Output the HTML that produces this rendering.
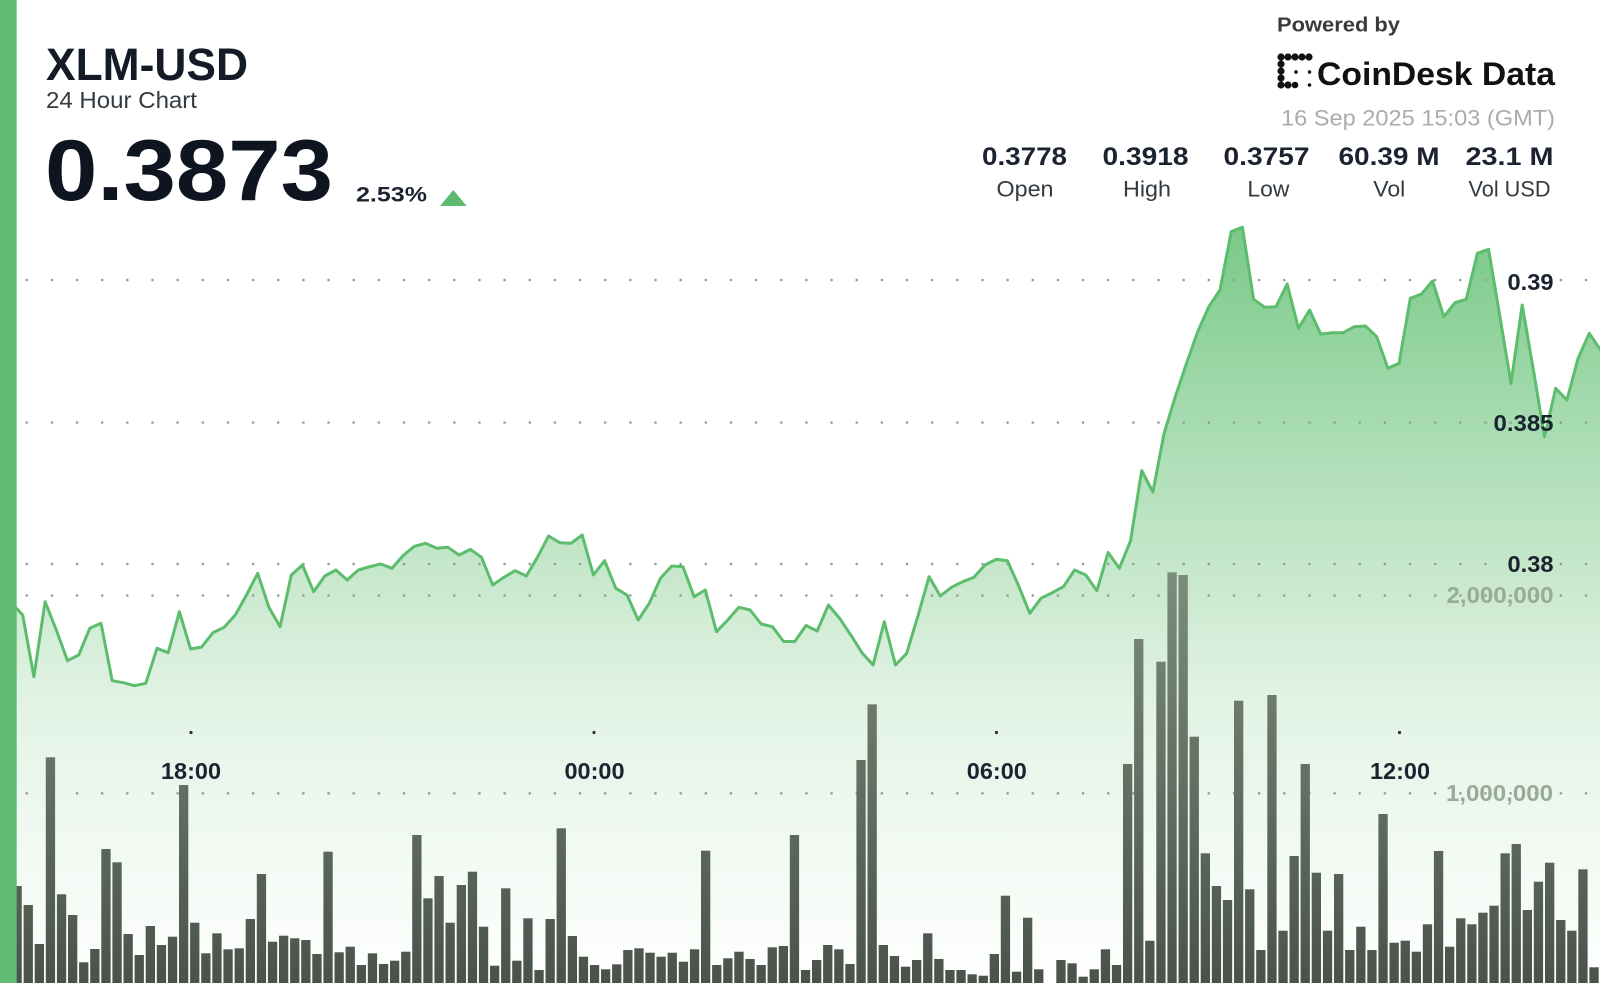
<!DOCTYPE html>
<html><head><meta charset="utf-8"><style>
html,body{margin:0;padding:0;background:#fff;}
svg{display:block;font-family:"Liberation Sans",Arial,sans-serif;}
</style></head><body>
<svg width="1600" height="983" viewBox="0 0 1600 983" xmlns="http://www.w3.org/2000/svg">
<defs>
<linearGradient id="area" gradientUnits="userSpaceOnUse" x1="0" y1="220" x2="0" y2="983">
<stop offset="0" stop-color="#78c886"/>
<stop offset="0.26" stop-color="#a6dbb0"/>
<stop offset="0.45" stop-color="#c5e7ca"/>
<stop offset="0.63" stop-color="#e2f3e5"/>
<stop offset="1" stop-color="#ffffff"/>
</linearGradient>
<linearGradient id="bar" gradientUnits="userSpaceOnUse" x1="0" y1="560" x2="0" y2="983">
<stop offset="0" stop-color="#7d8f7d"/>
<stop offset="1" stop-color="#4a534a"/>
</linearGradient>
</defs>
<rect width="1600" height="983" fill="#fff"/>
<polygon fill="url(#area)" points="11.5,603 22.7,615 33.9,676.7 45.1,601.7 56.3,630 67.5,660.7 78.7,655 89.8,628.3 101,623.3 112.2,680.7 123.4,682.7 134.6,685.7 145.8,683.3 157,648.3 168.2,652.7 179.4,611.7 190.6,649 201.7,647 212.9,632.7 224.1,627.3 235.3,615 246.5,595 257.7,573.3 268.9,607.3 280.1,626.7 291.3,575 302.5,565 313.6,591.7 324.8,576 336,570 347.2,580 358.4,570 369.6,566.7 380.8,564 392,568.3 403.2,555.5 414.4,546.3 425.5,543.3 436.7,548.3 447.9,547.3 459.1,555 470.3,549.3 481.5,557.3 492.7,585 503.9,577.3 515.1,570.7 526.3,576 537.4,557.3 548.6,536 559.8,542.7 571,543.3 582.2,535 593.4,575 604.6,560.7 615.8,588.3 627,595 638.2,620 649.3,603.3 660.5,578.3 671.7,566 682.9,566.7 694.1,596.7 705.3,590 716.5,631.7 727.7,620 738.9,607.3 750.1,610 761.2,624 772.4,626.7 783.6,641.5 794.8,641.5 806,625.5 817.2,631 828.4,605 839.6,618.3 850.8,635 862,652.7 873.1,665 884.3,621.7 895.5,665 906.7,653.3 917.9,616 929.1,576.7 940.3,596 951.5,587.3 962.7,581.7 973.9,577.3 985,565 996.2,559.3 1007.4,560.7 1018.6,585.7 1029.8,613.3 1041,598.3 1052.2,592.7 1063.4,586.7 1074.6,570 1085.8,575 1096.9,590.7 1108.1,552.5 1119.3,568.3 1130.5,541 1141.7,470.5 1152.9,492 1164.1,433.3 1175.3,396.7 1186.5,363.3 1197.7,331.7 1208.8,306.7 1220,290 1231.2,231.7 1242.4,227.3 1253.6,299.3 1264.8,307.3 1276,306.7 1287.2,284 1298.4,328.3 1309.6,310 1320.7,334 1331.9,332.7 1343.1,332.7 1354.3,326.7 1365.5,326 1376.7,336.7 1387.9,368.3 1399.1,363.3 1410.3,298.3 1421.5,294 1432.6,281 1443.8,316.7 1455,302.7 1466.2,299.3 1477.4,253.3 1488.6,249.3 1499.8,316 1511,383.3 1522.2,305 1533.4,370 1544.5,436.7 1555.7,388.3 1566.9,400 1578.1,358.3 1589.3,333.3 1600.5,350 1600.5,983 11.5,983"/>
<g stroke="#9a9a9a" stroke-width="2.6" stroke-linecap="round" stroke-dasharray="0.01 25.14" fill="none">
<line x1="26.75" y1="280" x2="1600" y2="280"/>
<line x1="26.75" y1="422.5" x2="1600" y2="422.5"/>
<line x1="26.75" y1="564" x2="1600" y2="564"/>
<line x1="26.75" y1="595.5" x2="1600" y2="595.5"/>
<line x1="26.75" y1="793.3" x2="1600" y2="793.3"/>
</g>
<g fill="#2a2f38">
<circle cx="191" cy="732.5" r="1.6"/>
<circle cx="594" cy="732.5" r="1.6"/>
<circle cx="996.5" cy="732.5" r="1.6"/>
<circle cx="1399.5" cy="732.5" r="1.6"/>
</g>
<g fill="url(#bar)">
<rect x="12.45" y="886" width="9.3" height="97"/>
<rect x="23.6" y="905" width="9.3" height="78"/>
<rect x="34.7" y="944" width="9.3" height="39"/>
<rect x="45.8" y="757.3" width="9.3" height="225.7"/>
<rect x="56.9" y="894.3" width="9.3" height="88.7"/>
<rect x="68" y="915" width="9.3" height="68"/>
<rect x="79.1" y="962.3" width="9.3" height="20.7"/>
<rect x="90.2" y="949" width="9.3" height="34"/>
<rect x="101.3" y="849" width="9.3" height="134"/>
<rect x="112.4" y="862.3" width="9.3" height="120.7"/>
<rect x="123.5" y="934" width="9.3" height="49"/>
<rect x="134.6" y="955" width="9.3" height="28"/>
<rect x="145.7" y="926" width="9.3" height="57"/>
<rect x="156.8" y="945" width="9.3" height="38"/>
<rect x="167.9" y="936.7" width="9.3" height="46.3"/>
<rect x="179" y="785" width="9.3" height="198"/>
<rect x="190.1" y="922.7" width="9.3" height="60.3"/>
<rect x="201.2" y="953.3" width="9.3" height="29.7"/>
<rect x="212.3" y="933.3" width="9.3" height="49.7"/>
<rect x="223.4" y="949.3" width="9.3" height="33.7"/>
<rect x="234.6" y="948.3" width="9.3" height="34.7"/>
<rect x="245.7" y="919" width="9.3" height="64"/>
<rect x="256.8" y="874" width="9.3" height="109"/>
<rect x="267.9" y="941.7" width="9.3" height="41.3"/>
<rect x="279" y="935.7" width="9.3" height="47.3"/>
<rect x="290.1" y="938.3" width="9.3" height="44.7"/>
<rect x="301.2" y="940" width="9.3" height="43"/>
<rect x="312.3" y="954" width="9.3" height="29"/>
<rect x="323.4" y="851.7" width="9.3" height="131.3"/>
<rect x="334.5" y="952.3" width="9.3" height="30.7"/>
<rect x="345.6" y="946.7" width="9.3" height="36.3"/>
<rect x="356.7" y="965" width="9.3" height="18"/>
<rect x="367.8" y="953.3" width="9.3" height="29.7"/>
<rect x="378.9" y="964" width="9.3" height="19"/>
<rect x="390" y="960.7" width="9.3" height="22.3"/>
<rect x="401.1" y="951.7" width="9.3" height="31.3"/>
<rect x="412.2" y="835" width="9.3" height="148"/>
<rect x="423.3" y="898.3" width="9.3" height="84.7"/>
<rect x="434.4" y="876" width="9.3" height="107"/>
<rect x="445.5" y="922.7" width="9.3" height="60.3"/>
<rect x="456.7" y="885" width="9.3" height="98"/>
<rect x="467.8" y="871.7" width="9.3" height="111.3"/>
<rect x="478.9" y="926.7" width="9.3" height="56.3"/>
<rect x="490" y="965.7" width="9.3" height="17.3"/>
<rect x="501.1" y="888.3" width="9.3" height="94.7"/>
<rect x="512.2" y="960.7" width="9.3" height="22.3"/>
<rect x="523.3" y="918.3" width="9.3" height="64.7"/>
<rect x="534.4" y="970" width="9.3" height="13"/>
<rect x="545.5" y="919" width="9.3" height="64"/>
<rect x="556.6" y="828.3" width="9.3" height="154.7"/>
<rect x="567.7" y="936" width="9.3" height="47"/>
<rect x="578.8" y="956.7" width="9.3" height="26.3"/>
<rect x="589.9" y="965" width="9.3" height="18"/>
<rect x="601" y="969.3" width="9.3" height="13.7"/>
<rect x="612.1" y="964.3" width="9.3" height="18.7"/>
<rect x="623.2" y="950" width="9.3" height="33"/>
<rect x="634.3" y="948.3" width="9.3" height="34.7"/>
<rect x="645.4" y="952.7" width="9.3" height="30.3"/>
<rect x="656.5" y="956.7" width="9.3" height="26.3"/>
<rect x="667.6" y="952.7" width="9.3" height="30.3"/>
<rect x="678.8" y="961.7" width="9.3" height="21.3"/>
<rect x="689.9" y="949.3" width="9.3" height="33.7"/>
<rect x="701" y="850.7" width="9.3" height="132.3"/>
<rect x="712.1" y="965" width="9.3" height="18"/>
<rect x="723.2" y="958.3" width="9.3" height="24.7"/>
<rect x="734.3" y="951.7" width="9.3" height="31.3"/>
<rect x="745.4" y="959" width="9.3" height="24"/>
<rect x="756.5" y="965" width="9.3" height="18"/>
<rect x="767.6" y="947.3" width="9.3" height="35.7"/>
<rect x="778.7" y="946" width="9.3" height="37"/>
<rect x="789.8" y="835" width="9.3" height="148"/>
<rect x="800.9" y="970" width="9.3" height="13"/>
<rect x="812" y="960" width="9.3" height="23"/>
<rect x="823.1" y="945" width="9.3" height="38"/>
<rect x="834.2" y="949.3" width="9.3" height="33.7"/>
<rect x="845.3" y="964" width="9.3" height="19"/>
<rect x="856.4" y="760" width="9.3" height="223"/>
<rect x="867.5" y="704.3" width="9.3" height="278.7"/>
<rect x="878.7" y="945" width="9.3" height="38"/>
<rect x="889.8" y="956" width="9.3" height="27"/>
<rect x="900.9" y="966.7" width="9.3" height="16.3"/>
<rect x="912" y="960" width="9.3" height="23"/>
<rect x="923.1" y="933.3" width="9.3" height="49.7"/>
<rect x="934.2" y="959" width="9.3" height="24"/>
<rect x="945.3" y="970" width="9.3" height="13"/>
<rect x="956.4" y="970" width="9.3" height="13"/>
<rect x="967.5" y="974.3" width="9.3" height="8.7"/>
<rect x="978.6" y="975.7" width="9.3" height="7.3"/>
<rect x="989.7" y="954" width="9.3" height="29"/>
<rect x="1000.8" y="895.7" width="9.3" height="87.3"/>
<rect x="1011.9" y="971.7" width="9.3" height="11.3"/>
<rect x="1023" y="917.7" width="9.3" height="65.3"/>
<rect x="1034.1" y="969.3" width="9.3" height="13.7"/>
<rect x="1056.3" y="960" width="9.3" height="23"/>
<rect x="1067.4" y="963.3" width="9.3" height="19.7"/>
<rect x="1078.5" y="976.7" width="9.3" height="6.3"/>
<rect x="1089.6" y="969.3" width="9.3" height="13.7"/>
<rect x="1100.8" y="949.3" width="9.3" height="33.7"/>
<rect x="1111.9" y="965" width="9.3" height="18"/>
<rect x="1123" y="764" width="9.3" height="219"/>
<rect x="1134.1" y="639" width="9.3" height="344"/>
<rect x="1145.2" y="940.7" width="9.3" height="42.3"/>
<rect x="1156.3" y="661.7" width="9.3" height="321.3"/>
<rect x="1167.4" y="572.3" width="9.3" height="410.7"/>
<rect x="1178.5" y="575" width="9.3" height="408"/>
<rect x="1189.6" y="736.7" width="9.3" height="246.3"/>
<rect x="1200.7" y="853.3" width="9.3" height="129.7"/>
<rect x="1211.8" y="886" width="9.3" height="97"/>
<rect x="1222.9" y="900" width="9.3" height="83"/>
<rect x="1234" y="700.7" width="9.3" height="282.3"/>
<rect x="1245.1" y="889.3" width="9.3" height="93.7"/>
<rect x="1256.2" y="950" width="9.3" height="33"/>
<rect x="1267.3" y="695" width="9.3" height="288"/>
<rect x="1278.4" y="930.7" width="9.3" height="52.3"/>
<rect x="1289.5" y="856" width="9.3" height="127"/>
<rect x="1300.6" y="764" width="9.3" height="219"/>
<rect x="1311.7" y="872.7" width="9.3" height="110.3"/>
<rect x="1322.9" y="930.7" width="9.3" height="52.3"/>
<rect x="1334" y="874" width="9.3" height="109"/>
<rect x="1345.1" y="950" width="9.3" height="33"/>
<rect x="1356.2" y="926.7" width="9.3" height="56.3"/>
<rect x="1367.3" y="950" width="9.3" height="33"/>
<rect x="1378.4" y="814" width="9.3" height="169"/>
<rect x="1389.5" y="942.7" width="9.3" height="40.3"/>
<rect x="1400.6" y="940.7" width="9.3" height="42.3"/>
<rect x="1411.7" y="951.7" width="9.3" height="31.3"/>
<rect x="1422.8" y="924.3" width="9.3" height="58.7"/>
<rect x="1433.9" y="851" width="9.3" height="132"/>
<rect x="1445" y="946.7" width="9.3" height="36.3"/>
<rect x="1456.1" y="918.3" width="9.3" height="64.7"/>
<rect x="1467.2" y="924.3" width="9.3" height="58.7"/>
<rect x="1478.3" y="912.7" width="9.3" height="70.3"/>
<rect x="1489.4" y="905.7" width="9.3" height="77.3"/>
<rect x="1500.5" y="853.3" width="9.3" height="129.7"/>
<rect x="1511.6" y="844" width="9.3" height="139"/>
<rect x="1522.7" y="910" width="9.3" height="73"/>
<rect x="1533.8" y="881.7" width="9.3" height="101.3"/>
<rect x="1545" y="862.7" width="9.3" height="120.3"/>
<rect x="1556.1" y="920" width="9.3" height="63"/>
<rect x="1567.2" y="930.7" width="9.3" height="52.3"/>
<rect x="1578.3" y="869.3" width="9.3" height="113.7"/>
<rect x="1589.4" y="967.3" width="9.3" height="15.7"/>
</g>
<polyline fill="none" stroke="#5cbd6d" stroke-width="3" stroke-linejoin="round" stroke-linecap="round" points="11.5,603 22.7,615 33.9,676.7 45.1,601.7 56.3,630 67.5,660.7 78.7,655 89.8,628.3 101,623.3 112.2,680.7 123.4,682.7 134.6,685.7 145.8,683.3 157,648.3 168.2,652.7 179.4,611.7 190.6,649 201.7,647 212.9,632.7 224.1,627.3 235.3,615 246.5,595 257.7,573.3 268.9,607.3 280.1,626.7 291.3,575 302.5,565 313.6,591.7 324.8,576 336,570 347.2,580 358.4,570 369.6,566.7 380.8,564 392,568.3 403.2,555.5 414.4,546.3 425.5,543.3 436.7,548.3 447.9,547.3 459.1,555 470.3,549.3 481.5,557.3 492.7,585 503.9,577.3 515.1,570.7 526.3,576 537.4,557.3 548.6,536 559.8,542.7 571,543.3 582.2,535 593.4,575 604.6,560.7 615.8,588.3 627,595 638.2,620 649.3,603.3 660.5,578.3 671.7,566 682.9,566.7 694.1,596.7 705.3,590 716.5,631.7 727.7,620 738.9,607.3 750.1,610 761.2,624 772.4,626.7 783.6,641.5 794.8,641.5 806,625.5 817.2,631 828.4,605 839.6,618.3 850.8,635 862,652.7 873.1,665 884.3,621.7 895.5,665 906.7,653.3 917.9,616 929.1,576.7 940.3,596 951.5,587.3 962.7,581.7 973.9,577.3 985,565 996.2,559.3 1007.4,560.7 1018.6,585.7 1029.8,613.3 1041,598.3 1052.2,592.7 1063.4,586.7 1074.6,570 1085.8,575 1096.9,590.7 1108.1,552.5 1119.3,568.3 1130.5,541 1141.7,470.5 1152.9,492 1164.1,433.3 1175.3,396.7 1186.5,363.3 1197.7,331.7 1208.8,306.7 1220,290 1231.2,231.7 1242.4,227.3 1253.6,299.3 1264.8,307.3 1276,306.7 1287.2,284 1298.4,328.3 1309.6,310 1320.7,334 1331.9,332.7 1343.1,332.7 1354.3,326.7 1365.5,326 1376.7,336.7 1387.9,368.3 1399.1,363.3 1410.3,298.3 1421.5,294 1432.6,281 1443.8,316.7 1455,302.7 1466.2,299.3 1477.4,253.3 1488.6,249.3 1499.8,316 1511,383.3 1522.2,305 1533.4,370 1544.5,436.7 1555.7,388.3 1566.9,400 1578.1,358.3 1589.3,333.3 1600.5,350"/>
<g font-weight="bold" font-size="23" fill="#1c2330" text-anchor="end">
<text x="1553.5" y="290" textLength="46" lengthAdjust="spacingAndGlyphs">0.39</text>
<text x="1553.5" y="431" textLength="60" lengthAdjust="spacingAndGlyphs">0.385</text>
<text x="1553.5" y="572" textLength="46" lengthAdjust="spacingAndGlyphs">0.38</text>
</g>
<g font-weight="bold" font-size="23" fill="#97ab98" text-anchor="end">
<text x="1553.5" y="603" textLength="107" lengthAdjust="spacingAndGlyphs">2,000,000</text>
<text x="1553" y="801" textLength="107" lengthAdjust="spacingAndGlyphs">1,000,000</text>
</g>
<g font-weight="bold" font-size="23.5" fill="#1c2330" text-anchor="middle">
<text x="191" y="779" textLength="60" lengthAdjust="spacingAndGlyphs">18:00</text>
<text x="594.5" y="779" textLength="60" lengthAdjust="spacingAndGlyphs">00:00</text>
<text x="996.8" y="779" textLength="60" lengthAdjust="spacingAndGlyphs">06:00</text>
<text x="1400" y="779" textLength="60" lengthAdjust="spacingAndGlyphs">12:00</text>
</g>
<rect x="0" y="0" width="16.7" height="983" fill="#5fbc70"/>
<text x="46" y="80" font-size="45" font-weight="bold" fill="#141b26" textLength="202" lengthAdjust="spacingAndGlyphs">XLM-USD</text>
<text x="46" y="108" font-size="23" fill="#333a40" textLength="151" lengthAdjust="spacingAndGlyphs">24 Hour Chart</text>
<text x="45" y="200" font-size="86" font-weight="bold" fill="#0e1521" textLength="288" lengthAdjust="spacingAndGlyphs">0.3873</text>
<text x="356" y="201.5" font-size="21" font-weight="bold" fill="#1c2330" textLength="71" lengthAdjust="spacingAndGlyphs">2.53%</text>
<polygon points="440,206 466.7,206 453.3,190" fill="#5dbb6e"/>
<text x="1277" y="31.5" font-size="20" font-weight="bold" fill="#3a3a3a" textLength="123" lengthAdjust="spacingAndGlyphs">Powered by</text>
<g fill="#111">
<circle cx="1281" cy="57" r="3.6"/><circle cx="1288" cy="57" r="3.6"/><circle cx="1295" cy="57" r="3.6"/><circle cx="1302" cy="57" r="3.6"/><circle cx="1309" cy="57" r="3.6"/>
<circle cx="1281" cy="64" r="3.6"/><circle cx="1281" cy="71" r="3.6"/><circle cx="1281" cy="78" r="3.6"/><circle cx="1281" cy="85" r="3.6"/>
<circle cx="1288" cy="85" r="3.6"/><circle cx="1295" cy="85" r="3.3"/>
<circle cx="1296" cy="72" r="1.8"/><circle cx="1309.5" cy="72" r="1.8"/><circle cx="1309.5" cy="85" r="1.8"/>
</g>
<text x="1317" y="85" font-size="32" font-weight="bold" fill="#111" textLength="238" lengthAdjust="spacingAndGlyphs">CoinDesk Data</text>
<text x="1281" y="125.5" font-size="22" fill="#ababab" textLength="274" lengthAdjust="spacingAndGlyphs">16 Sep 2025 15:03 (GMT)</text>
<g font-size="25" font-weight="bold" fill="#1c2330" text-anchor="middle">
<text x="1024.5" y="165" textLength="85" lengthAdjust="spacingAndGlyphs">0.3778</text>
<text x="1145.5" y="165" textLength="86" lengthAdjust="spacingAndGlyphs">0.3918</text>
<text x="1266.5" y="165" textLength="86" lengthAdjust="spacingAndGlyphs">0.3757</text>
<text x="1389" y="165" textLength="101" lengthAdjust="spacingAndGlyphs">60.39 M</text>
<text x="1509.5" y="165" textLength="88" lengthAdjust="spacingAndGlyphs">23.1 M</text>
</g>
<g font-size="22" fill="#333a40" text-anchor="middle">
<text x="1025" y="196.5" textLength="57" lengthAdjust="spacingAndGlyphs">Open</text>
<text x="1147" y="196.5" textLength="48" lengthAdjust="spacingAndGlyphs">High</text>
<text x="1268.4" y="196.5" textLength="42" lengthAdjust="spacingAndGlyphs">Low</text>
<text x="1389.3" y="196.5" textLength="32" lengthAdjust="spacingAndGlyphs">Vol</text>
<text x="1509.5" y="196.5" textLength="82" lengthAdjust="spacingAndGlyphs">Vol USD</text>
</g>
</svg>
</body></html>
